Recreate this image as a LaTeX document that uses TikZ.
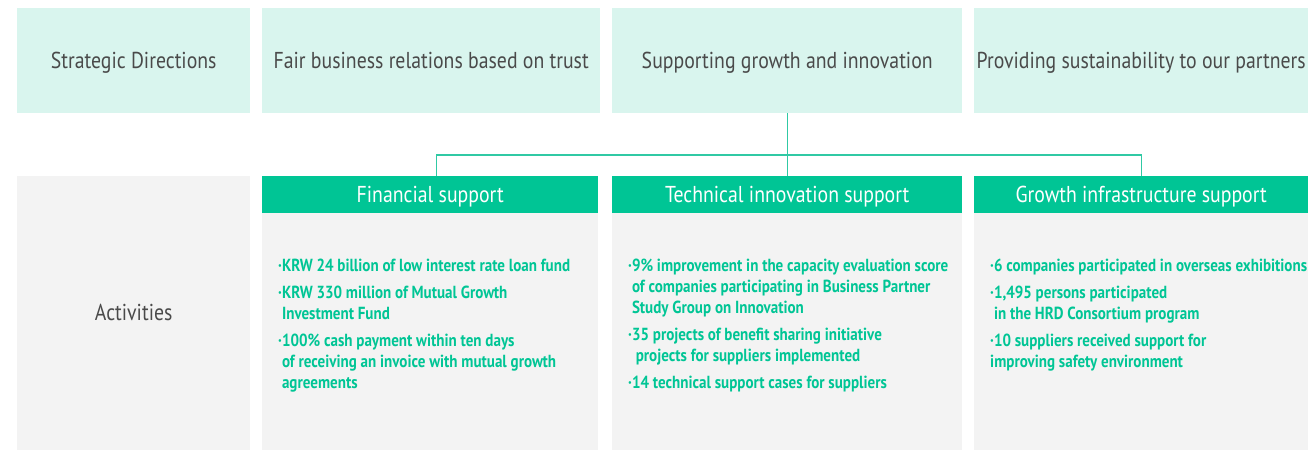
\documentclass[tikz,border=0pt]{standalone}
\usepackage{fontspec}
\setmainfont[FakeStretch=0.86]{PT Sans}
\usetikzlibrary{positioning,calc}
\definecolor{mint}{HTML}{D9F5EE}
\definecolor{greyfill}{HTML}{F3F3F3}
\definecolor{kgreen}{HTML}{00C595}
\definecolor{lgreen}{HTML}{30C9A4}
\definecolor{dtext}{HTML}{4A4A4A}
\tikzstyle{dirbox} = [rectangle, fill=mint, text=dtext, anchor=north west, %
   inner sep=0pt, minimum height=105pt, text height=20pt, text depth=5pt, %
   font=\fontsize{23}{27}\selectfont]
\tikzstyle{actbox} = [rectangle, fill=greyfill, text=dtext, anchor=north west, %
   inner sep=0pt, minimum height=274pt, text height=20pt, text depth=5pt, %
   font=\fontsize{23}{27}\selectfont]
\tikzstyle{headbox} = [rectangle, fill=kgreen, text=white, anchor=north west, %
   inner sep=0pt, minimum height=37pt, text height=20pt, text depth=5pt, %
   font=\fontsize{23}{27}\selectfont]
\tikzstyle{bodybox} = [rectangle, fill=greyfill, anchor=north west, %
   inner sep=0pt, minimum height=237pt]
\tikzstyle{items} = [anchor=north west, inner sep=0pt, align=left, text=kgreen, %
   font=\fontsize{17.5}{21}\selectfont\bfseries]
\tikzstyle{link} = [draw, lgreen, line width=1.3pt]
\newcommand{\ind}{\phantom{·}}

\begin{document}
\begin{tikzpicture}[x=1pt,y=-1pt]
   \useasboundingbox (0,0) rectangle (1308,450);

   % strategic directions row
   \node[dirbox, minimum width=233pt] (sd) at (17,8) {Strategic Directions};
   \node[dirbox, minimum width=338pt] (dir1) at (262,8) {Fair business relations based on trust};
   \node[dirbox, minimum width=350pt] (dir2) at (612,8) {Supporting growth and innovation};
   \node[dirbox, minimum width=334pt] (dir3) at (974,8) {Providing sustainability to our partners};

   % activities row
   \node[actbox, minimum width=233pt] (act) at (17,176) {Activities};

   \node[headbox, minimum width=336pt] (fin) at (262,176) {Financial support};
   \node[headbox, minimum width=350pt] (tec) at (612,176) {Technical innovation support};
   \node[headbox, minimum width=334pt] (gro) at (974,176) {Growth infrastructure support};

   \node[bodybox, minimum width=336pt] (finbody) at (262,213) {};
   \node[bodybox, minimum width=350pt] (tecbody) at (612,213) {};
   \node[bodybox, minimum width=334pt] (grobody) at (974,213) {};

   \node[items] (finlist) at (278,259) {%
      ·KRW 24 billion of low interest rate loan fund\\[6pt]
      ·KRW 330 million of Mutual Growth\\
      \ind Investment Fund\\[6pt]
      ·100\% cash payment within ten days\\
      \ind of receiving an invoice with mutual growth\\
      \ind agreements};
   \node[items] (teclist) at (628,259) {%
      ·9\% improvement in the capacity evaluation score\\
      \ind of companies participating in Business Partner\\
      \ind Study Group on Innovation\\[6pt]
      ·35 projects of benefit sharing initiative\\
      \ind\ projects for suppliers implemented\\[6pt]
      ·14 technical support cases for suppliers};
   \node[items] (grolist) at (990,259) {%
      ·6 companies participated in overseas exhibitions\\[6pt]
      ·1,495 persons participated\\
      \ind in the HRD Consortium program\\[6pt]
      ·10 suppliers received support for\\
      improving safety environment};

   % connectors
   \coordinate (hub) at ([yshift=21pt]tec.north);
   \path[link] (dir2.south) -- (tec.north);
   \path[link] ([xshift=6pt]fin.north) |- (hub) -| (gro.north);
\end{tikzpicture}
\end{document}
